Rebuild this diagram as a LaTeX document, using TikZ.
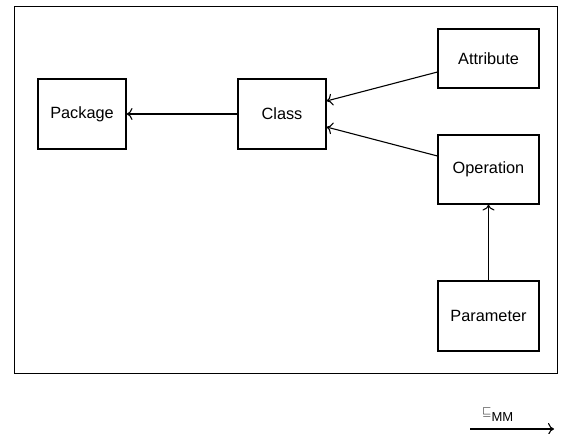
\documentclass[tikz,border=0pt]{standalone}
\usepackage{amssymb}
\usepackage{fontspec}
\setmainfont{Liberation Sans}
\usetikzlibrary{arrows.meta}
\begin{document}
\begin{tikzpicture}[x=1pt,y=-1pt,
  box/.style={draw,line width=1.1pt,inner sep=0pt,font=\fontsize{16.3}{19}\selectfont},
  link/.style={draw,line width=1.1pt,-{To[length=6pt,width=12pt]}}]
\useasboundingbox (0,0) rectangle (563,434);
\node[draw,line width=1.1pt,minimum width=542.5pt,minimum height=367pt,anchor=north west,inner sep=0pt] (frame) at (14,6) {};
\node[box,minimum width=88pt,minimum height=70pt] (package) at (82,114) {Package};
\node[box,minimum width=88pt,minimum height=70pt] (class) at (282,114) {Class};
\node[box,minimum width=101pt,minimum height=59pt] (attr) at (488.5,58.5) {Attribute};
\node[box,minimum width=101pt,minimum height=69pt] (oper) at (488.5,169.5) {Operation};
\node[box,minimum width=101pt,minimum height=70pt] (param) at (488.5,316) {Parameter};
\draw[link] (class.west) -- (package.east);
\draw[link] (attr.west |- 0,72) -- (class.east |- 0,101);
\draw[link] (oper.west |- 0,156) -- (class.east |- 0,127);
\draw[link] (param.north) -- (oper.south);
\coordinate (s) at (470,429);
\coordinate (t) at (554,429);
\draw[link] (s) -- (t);
\node[anchor=base west,inner sep=0pt,font=\fontsize{13}{15}\selectfont] (lbl) at (482,421) {\raisebox{6pt}{$\sqsubseteq$}MM};
\end{tikzpicture}
\end{document}
